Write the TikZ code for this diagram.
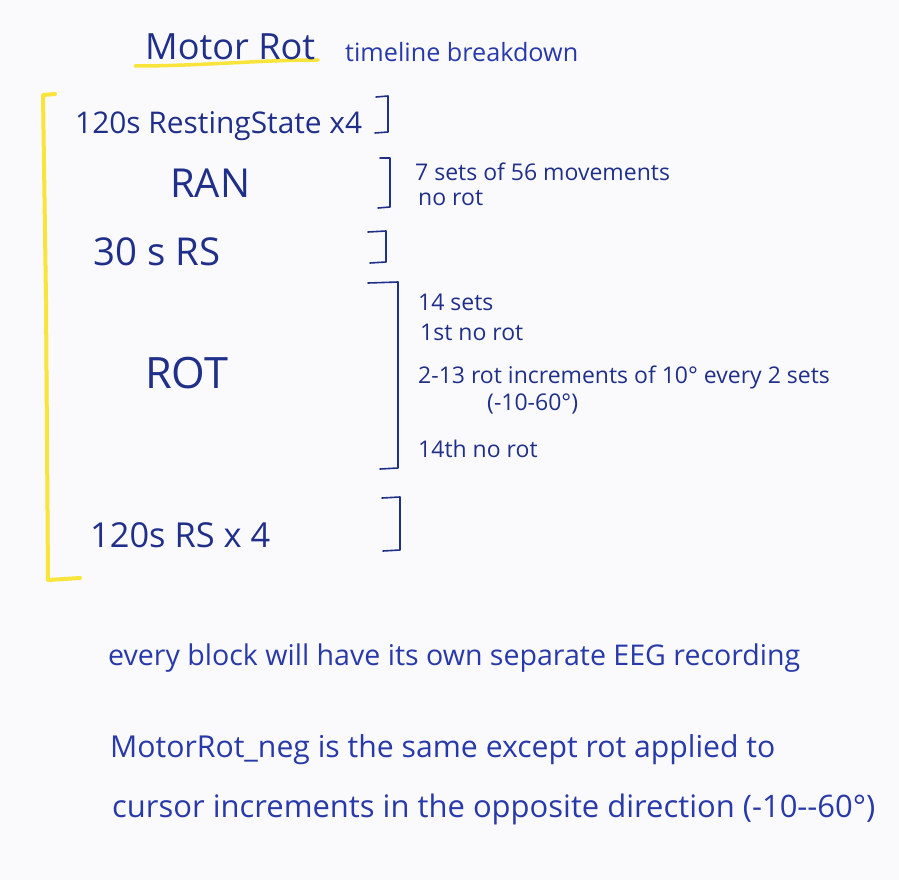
\documentclass[tikz,border=0pt]{standalone}
\usepackage{fontspec}
\usepackage{graphicx}
\setmainfont{Open Sans}
\definecolor{ink}{RGB}{32,48,138}
\definecolor{ink2}{RGB}{40,58,170}
\definecolor{hl}{RGB}{248,228,58}
\definecolor{paper}{RGB}{250,250,252}
\newcommand\fitw[2]{\resizebox{#1pt}{!}{#2}}
\tikzset{
  txt/.style={anchor=base west, inner sep=0pt, text=ink},
  note/.style={anchor=base west, inner sep=0pt, text=ink, font=\fontsize{23}{27}\selectfont},
  txtb/.style={anchor=base west, inner sep=0pt, text=ink2},
  brk/.style={draw=ink, line width=1.6pt, line join=round, line cap=round},
  ybrk/.style={draw=hl, line width=4pt, line join=round, line cap=round}
}
\begin{document}
\begin{tikzpicture}[x=1pt,y=-1pt]
\fill[paper] (0,0) rectangle (899,880);
\useasboundingbox (0,0) rectangle (899,880);
% title
\draw[ybrk, line width=3.5pt] (135,66) .. controls (200,66) and (260,60) .. (318,60);
\node[txt] (title) at (145,60) {\fitw{170}{Motor Rot}};
\node[txt, ink2] (sub) at (345,62) {\fitw{233}{timeline breakdown}};
% yellow bracket
\draw[ybrk] (55,94) -- (43,95) -- (46,300) -- (48,580) -- (80,578);
% rows
\node[txt] (rs1) at (75,134) {\fitw{287}{120s RestingState x4}};
\draw[brk] (376,97) -- (388,96) -- (388,132) -- (375,133);

\node[txt] (ran) at (170,197) {\fitw{80}{RAN}};
\draw[brk] (380,158) -- (390,158) -- (390,207) -- (378,208);
\node[note] (ranA) at (415,180) {7 sets of 56 movements};
\node[note] (ranB) at (418,205) {no rot};

\node[txt] (rs2) at (93,265) {\fitw{127}{30 s RS}};
\draw[brk] (368,232) -- (386,231) -- (386,262) -- (370,263);

\node[txt] (rot) at (145,388) {\fitw{83}{ROT}};
\draw[brk] (368,283) -- (398,282) -- (398,468) -- (380,469);
\node[note] (rotA) at (418,310) {14 sets};
\node[note] (rotB) at (420,340) {1st no rot};
\node[note] (rotC) at (418,383) {2-13 rot increments of 10° every 2 sets};
\node[note] (rotD) at (487,410) {(-10-60°)};
\node[note] (rotE) at (418,457) {14th no rot};

\node[txt] (rs3) at (90,547) {\fitw{180}{120s RS x 4}};
\draw[brk] (382,498) -- (400,497) -- (400,550) -- (383,551);
% notes
\node[txtb] (n1) at (108,665) {\fitw{692}{every block will have its own separate EEG recording}};
\node[txtb] (n2) at (110,757) {\fitw{665}{MotorRot\_neg is the same except rot applied to}};
\node[txtb] (n3) at (112,817) {\fitw{763}{cursor increments in the opposite direction (-10-{}-60°)}};
\end{tikzpicture}
\end{document}
